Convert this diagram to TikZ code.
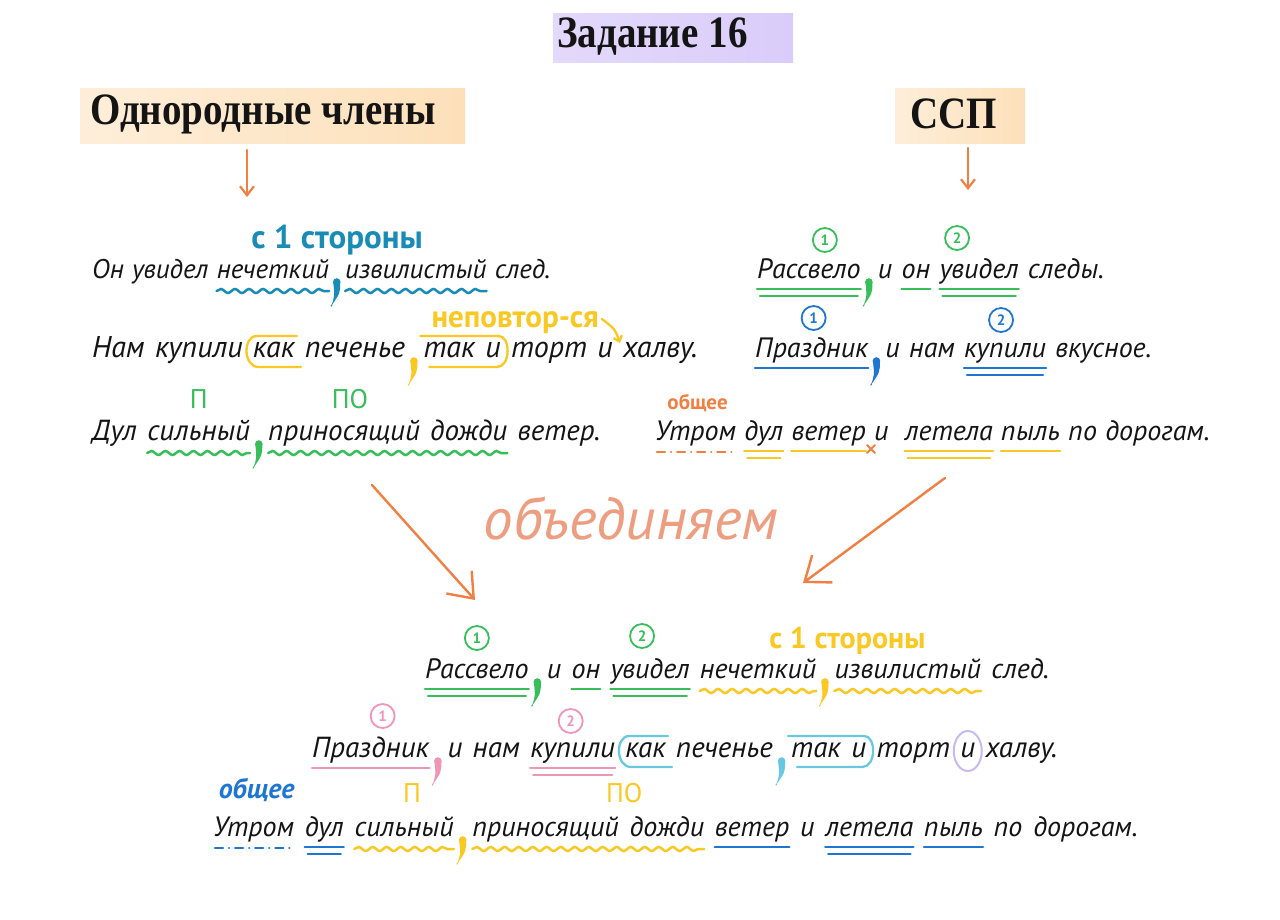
\documentclass[tikz,border=0pt]{standalone}
\usepackage{fontspec}
\setmainfont{PT Sans}
\newfontfamily\handf{PT Sans}
\newfontfamily\titlef{Liberation Serif}
\usetikzlibrary{arrows.meta,calc,decorations.pathmorphing}
\definecolor{cteal}{RGB}{24,140,182}
\definecolor{cyel}{RGB}{250,200,35}
\definecolor{cgreen}{RGB}{55,190,90}
\definecolor{cblue}{RGB}{30,118,210}
\definecolor{corange}{RGB}{240,128,66}
\definecolor{cpink}{RGB}{238,150,180}
\definecolor{ccyan}{RGB}{105,200,225}
\definecolor{clav}{RGB}{200,186,240}
\definecolor{csalmon}{RGB}{238,158,128}
\definecolor{hlpurple}{RGB}{218,204,250}
\definecolor{hlpeach}{RGB}{253,224,186}
\definecolor{ink}{RGB}{20,20,20}
\def\wsp{8}
\def\hs{27}
\newcommand\wnext[4][0]{\node[w] (#2) at ($(#3.base east)+({\wsp+#1},0)$) {#4};}
\newcommand\usingle[3]{\draw[mk,color=#1] ($(#2.base west)+(0,11)$) -- ($(#3.base east)+(0,11)$);}
\newcommand\udouble[3]{\draw[mk,color=#1] ($(#2.base west)+(0,11)$) -- ($(#3.base east)+(0,11)$);
  \draw[mk,color=#1] ($(#2.base west)+(3,18)$) -- ($(#3.base east)+(-3,18)$);}
\newcommand\uwavy[3]{\draw[wavy,color=#1] ($(#2.base west)+(0,13)$) -- ($(#3.base east)+(0,13)$);}
\newcommand\ucomma[3]{\pic[color=#1] at ($(#2.base east)!.45!(#3.base west)+(0,1)$) {hcomma};}
\newcommand\udashdot[2]{\draw[mk,color=#1,dash pattern=on 8pt off 6pt on 0.1pt off 6pt] ($(#2.base west)+(2,12)$) -- ($(#2.base east)+(0,12)$);}
\newcommand\cnum[4]{\node[cnum,draw=#2,text=#2] (#1) at (#3) {#4};}
\begin{document}
\begin{tikzpicture}[x=1pt,y=-1pt,
  w/.style={inner sep=0pt, anchor=base west, text=ink, font=\handf\itshape\fontsize{\hs}{\hs}\selectfont},
  ttl/.style={inner sep=0pt, text=ink, yscale=1.15, font=\titlef\bfseries\fontsize{39}{42}\selectfont},
  mk/.style={line width=2.3pt, line cap=round},
  wavy/.style={mk, line width=2.5pt, decorate, decoration={snake, amplitude=2pt, segment length=14pt}},
  cnum/.style={circle, line width=1.8pt, inner sep=0pt, minimum size=24pt, font=\bfseries\fontsize{15}{15}\selectfont},
  lbl/.style={inner sep=0pt, anchor=base, font=\bfseries\fontsize{24}{24}\selectfont},
  arr/.style={line width=2.2pt, color=corange, line cap=round, -{Straight Barb[length=9pt,width=14pt]}},
  bigarr/.style={line width=2.4pt, color=corange, line cap=round, -{Straight Barb[length=22pt,width=34pt]}},
  hcomma/.pic={\fill (0.5,3) circle (3.8pt);
    \fill (4,3) .. controls (4,14) .. (-5,27) .. controls (-1.5,17) .. (-3,3) -- cycle;
    \draw[line width=1.2pt, line cap=round] (-5,27) -- (-4.5,26);}
]
\useasboundingbox (0,0) rectangle (1280,919);
\fill[white] (0,0) rectangle (1280,919);

% ---------- titles ----------
\shade[left color=hlpurple!75, right color=hlpurple] (553,13) rectangle (793,62);
\node[ttl, anchor=west] (tz) at (557,37) {Задание 16};
\shade[left color=hlpeach!55, right color=hlpeach] (80,88) rectangle (465,143);
\node[ttl, anchor=west] (t1) at (90,114) {Однородные члены};
\shade[left color=hlpeach!55, right color=hlpeach] (895,88) rectangle (1025,143);
\node[ttl] (t2) at (954,114) {ССП};

\coordinate (s1) at (247,150); \coordinate (e1) at (247,197);
\coordinate (s2) at (968,148); \coordinate (e2) at (968,190);
\draw[arr] (s1) -- (e1);
\draw[arr] (s2) -- (e2);

% ---------- left row 1 ----------
\def\hs{27}\def\wsp{8}
\node[w] (l1a) at (92,278) {Он};
\wnext{l1b}{l1a}{увидел}
\wnext{l1c}{l1b}{нечеткий}
\wnext[8]{l1d}{l1c}{извилистый}
\wnext{l1e}{l1d}{след.}
\uwavy{cteal}{l1c}{l1c}
\uwavy{cteal}{l1d}{l1d}
\ucomma{cteal}{l1c}{l1d}
\node[lbl, text=cteal, font=\bfseries\fontsize{33}{33}\selectfont] (lb1) at ($(l1c.base east)!.5!(l1d.base west)+(0,-30)$) {с 1 стороны};

% ---------- left row 2 ----------
\def\hs{30}\def\wsp{10}
\node[w] (l2a) at (92,357) {Нам};
\wnext{l2b}{l2a}{купили}
\wnext{l2c}{l2b}{как}
\wnext{l2d}{l2c}{печенье}
\wnext[8]{l2e}{l2d}{так}
\wnext{l2f}{l2e}{и}
\wnext{l2g}{l2f}{торт}
\wnext{l2h}{l2g}{и}
\wnext{l2i}{l2h}{халву.}
\draw[mk,cyel] ($(l2c.base east)+(2,-21)$) -- ($(l2c.base west)+(4,-21)$) .. controls ($(l2c.base west)+(-10,-21)$) and ($(l2c.base west)+(-10,10)$) .. ($(l2c.base west)+(6,10)$) -- ($(l2c.base east)+(6,10)$);
\draw[mk,cyel] ($(l2e.base west)+(-3,-21)$) -- ($(l2f.base east)+(-2,-21)$) .. controls ($(l2f.base east)+(10,-21)$) and ($(l2f.base east)+(10,10)$) .. ($(l2f.base east)+(-4,10)$) -- ($(l2e.base west)+(6,10)$);
\ucomma{cyel}{l2d}{l2e}
\node[lbl, text=cyel, anchor=base west, font=\bfseries\fontsize{31}{31}\selectfont] (lb2) at ($(l2e.base west)+(8,-30)$) {неповтор-ся};
\draw[mk, cyel, -{Straight Barb[length=5pt,width=9pt]}] ($(lb2.base east)+(3,-8)$) .. controls ($(lb2.base east)+(16,2)$) .. ($(l2h.base east)+(7,-14)$);

% ---------- left row 3 ----------
\def\hs{29}\def\wsp{10}
\node[w] (l3a) at (92,440) {Дул};
\wnext{l3b}{l3a}{сильный}
\wnext[8]{l3c}{l3b}{приносящий}
\wnext{l3d}{l3c}{дожди}
\wnext{l3e}{l3d}{ветер.}
\uwavy{cgreen}{l3b}{l3b}
\uwavy{cgreen}{l3c}{l3d}
\ucomma{cgreen}{l3b}{l3c}
\node[lbl, text=cgreen, font=\fontsize{27}{27}\selectfont] (lb3) at ($(l3b.base)+(0,-32)$) {П};
\node[lbl, text=cgreen, font=\fontsize{27}{27}\selectfont] (lb4) at ($(l3c.base)+(6,-32)$) {ПО};

% ---------- right row 1 ----------
\def\hs{28}\def\wsp{9}
\node[w] (r1a) at (757,278) {Рассвело};
\wnext[8]{r1b}{r1a}{и}
\wnext{r1c}{r1b}{он}
\wnext{r1d}{r1c}{увидел}
\wnext{r1e}{r1d}{следы.}
\udouble{cgreen}{r1a}{r1a}
\ucomma{cgreen}{r1a}{r1b}
\usingle{cgreen}{r1c}{r1c}
\udouble{cgreen}{r1d}{r1d}
\cnum{c11}{cgreen}{$(r1a.base)+(16,-38)$}{1}
\cnum{c12}{cgreen}{$(r1d.base)+(-22,-40)$}{2}

% ---------- right row 2 ----------
\node[w] (r2a) at (755,357) {Праздник};
\wnext[8]{r2b}{r2a}{и}
\wnext{r2c}{r2b}{нам}
\wnext{r2d}{r2c}{купили}
\wnext{r2e}{r2d}{вкусное.}
\usingle{cblue}{r2a}{r2a}
\ucomma{cblue}{r2a}{r2b}
\udouble{cblue}{r2d}{r2d}
\cnum{c21}{cblue}{$(r2a.base)+(2,-39)$}{1}
\cnum{c22}{cblue}{$(r2d.base)+(-4,-37)$}{2}

% ---------- right row 3 ----------
\def\hs{28}\def\wsp{8}
\node[w] (r3a) at (655,440) {Утром};
\wnext{r3b}{r3a}{дул}
\wnext{r3c}{r3b}{ветер}
\wnext{r3d}{r3c}{и}
\wnext[8]{r3e}{r3d}{летела}
\wnext{r3f}{r3e}{пыль}
\wnext{r3g}{r3f}{по}
\wnext{r3h}{r3g}{дорогам.}
\node[lbl, text=corange, font=\bfseries\fontsize{21}{21}\selectfont] (lb5) at ($(r3a.base)+(2,-31)$) {общее};
\udashdot{corange}{r3a}
\udouble{cyel}{r3b}{r3b}
\usingle{cyel}{r3c}{r3c}
\draw[mk, corange, line width=2pt] ($(r3c.base east)+(1,5)$) -- ($(r3c.base east)+(9,13)$) ($(r3c.base east)+(9,5)$) -- ($(r3c.base east)+(1,13)$);
\udouble{cyel}{r3e}{r3e}
\usingle{cyel}{r3f}{r3f}

% ---------- big arrows ----------
\coordinate (bs1) at (372,485); \coordinate (be1) at (475,600);
\coordinate (bs2) at (945,478); \coordinate (be2) at (803,583);
\draw[bigarr] (bs1) -- (be1);
\draw[bigarr] (bs2) -- (be2);
\node[inner sep=0pt, text=csalmon, font=\handf\itshape\fontsize{59}{62}\selectfont] (ob) at (631,518) {объединяем};

% ---------- bottom row 1 ----------
\def\hs{28}\def\wsp{10}
\node[w] (b1a) at (425,678) {Рассвело};
\wnext[8]{b1b}{b1a}{и}
\wnext{b1c}{b1b}{он}
\wnext{b1d}{b1c}{увидел}
\wnext{b1e}{b1d}{нечеткий}
\wnext[8]{b1f}{b1e}{извилистый}
\wnext{b1g}{b1f}{след.}
\udouble{cgreen}{b1a}{b1a}
\ucomma{cgreen}{b1a}{b1b}
\usingle{cgreen}{b1c}{b1c}
\udouble{cgreen}{b1d}{b1d}
\uwavy{cyel}{b1e}{b1e}
\ucomma{cyel}{b1e}{b1f}
\uwavy{cyel}{b1f}{b1f}
\cnum{c31}{cgreen}{$(b1a.base)+(0,-40)$}{1}
\cnum{c32}{cgreen}{$(b1d.base)+(-8,-42)$}{2}
\node[lbl, text=cyel, font=\bfseries\fontsize{30}{30}\selectfont] (lb6) at ($(b1e.base east)!.5!(b1f.base west)+(22,-30)$) {с 1 стороны};

% ---------- bottom row 2 ----------
\def\hs{29}\def\wsp{10}
\node[w] (b2a) at (312,757) {Праздник};
\wnext[8]{b2b}{b2a}{и}
\wnext{b2c}{b2b}{нам}
\wnext{b2d}{b2c}{купили}
\wnext{b2e}{b2d}{как}
\wnext{b2f}{b2e}{печенье}
\wnext[8]{b2g}{b2f}{так}
\wnext{b2h}{b2g}{и}
\wnext{b2i}{b2h}{торт}
\wnext{b2j}{b2i}{и}
\wnext{b2k}{b2j}{халву.}
\usingle{cpink}{b2a}{b2a}
\ucomma{cpink}{b2a}{b2b}
\udouble{cpink}{b2d}{b2d}
\cnum{c41}{cpink}{$(b2a.base)+(12,-41)$}{1}
\cnum{c42}{cpink}{$(b2d.base)+(-2,-36)$}{2}
\draw[mk,ccyan] ($(b2e.base east)+(2,-21)$) -- ($(b2e.base west)+(4,-21)$) .. controls ($(b2e.base west)+(-10,-21)$) and ($(b2e.base west)+(-10,10)$) .. ($(b2e.base west)+(6,10)$) -- ($(b2e.base east)+(6,10)$);
\ucomma{ccyan}{b2f}{b2g}
\draw[mk,ccyan] ($(b2g.base west)+(-3,-21)$) -- ($(b2h.base east)+(-2,-21)$) .. controls ($(b2h.base east)+(10,-21)$) and ($(b2h.base east)+(10,10)$) .. ($(b2h.base east)+(-4,10)$) -- ($(b2g.base west)+(6,10)$);
\draw[mk,clav,line width=2pt] ($(b2j.base)+(0,-6)$) ellipse [x radius=14pt, y radius=20pt];

% ---------- bottom row 3 ----------
\def\hs{28}\def\wsp{10.5}
\node[w] (b3a) at (213,836) {Утром};
\wnext{b3b}{b3a}{дул}
\wnext{b3c}{b3b}{сильный}
\wnext[8]{b3d}{b3c}{приносящий}
\wnext{b3e}{b3d}{дожди}
\wnext{b3f}{b3e}{ветер}
\wnext{b3g}{b3f}{и}
\wnext{b3h}{b3g}{летела}
\wnext{b3i}{b3h}{пыль}
\wnext{b3j}{b3i}{по}
\wnext{b3k}{b3j}{дорогам.}
\node[lbl, text=cblue, font=\bfseries\itshape\fontsize{28}{28}\selectfont] (lb7) at ($(b3a.base)+(3,-38)$) {общее};
\udashdot{cblue}{b3a}
\udouble{cblue}{b3b}{b3b}
\uwavy{cyel}{b3c}{b3c}
\ucomma{cyel}{b3c}{b3d}
\uwavy{cyel}{b3d}{b3e}
\usingle{cblue}{b3f}{b3f}
\udouble{cblue}{b3h}{b3h}
\usingle{cblue}{b3i}{b3i}
\node[lbl, text=cyel, font=\fontsize{27}{27}\selectfont] (lb8) at ($(b3c.base)+(8,-34)$) {П};
\node[lbl, text=cyel, font=\fontsize{27}{27}\selectfont] (lb9) at ($(b3d.base east)!.5!(b3e.base west)+(0,-34)$) {ПО};
\end{tikzpicture}
\end{document}
